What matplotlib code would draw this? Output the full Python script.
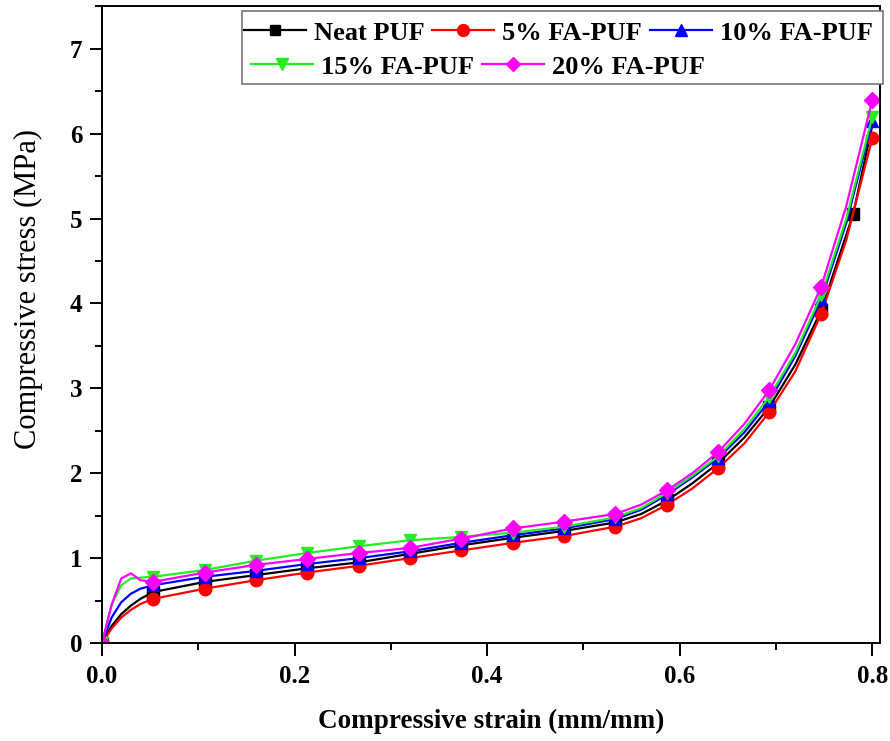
import matplotlib
matplotlib.use('Agg')
import matplotlib.pyplot as plt
from matplotlib.patches import Rectangle
from matplotlib.ticker import MultipleLocator

plt.rcParams['font.family'] = ['Liberation Serif', 'DejaVu Serif']
plt.rcParams['font.weight'] = 'bold'

# strain points
strain = [0, 0.01, 0.02, 0.03, 0.04, 0.053, 0.107, 0.16, 0.213, 0.267, 0.32,
          0.373, 0.427, 0.48, 0.533, 0.56, 0.587, 0.613, 0.64, 0.667, 0.693,
          0.72, 0.747, 0.773, 0.8]
strain_neat = [0, 0.01, 0.02, 0.03, 0.04, 0.053, 0.107, 0.16, 0.213, 0.267, 0.32,
               0.373, 0.427, 0.48, 0.533, 0.56, 0.587, 0.613, 0.64, 0.667, 0.693,
               0.72, 0.747, 0.78, 0.8]

neat = [0, 0.2, 0.34, 0.44, 0.52, 0.6, 0.72, 0.8, 0.88, 0.95, 1.05, 1.15, 1.24,
        1.32, 1.42, 1.52, 1.68, 1.88, 2.12, 2.42, 2.78, 3.28, 3.92, 5.05, 6.1]
fa5 = [0, 0.17, 0.3, 0.39, 0.46, 0.52, 0.64, 0.74, 0.83, 0.91, 1.0, 1.09, 1.18,
       1.26, 1.37, 1.47, 1.63, 1.82, 2.06, 2.35, 2.72, 3.2, 3.88, 4.75, 5.95]
fa10 = [0, 0.3, 0.48, 0.58, 0.64, 0.68, 0.78, 0.85, 0.93, 1.0, 1.08, 1.18, 1.27,
        1.35, 1.46, 1.57, 1.75, 1.95, 2.18, 2.48, 2.85, 3.38, 4.05, 4.95, 6.15]
fa15 = [0, 0.45, 0.68, 0.76, 0.77, 0.78, 0.86, 0.97, 1.06, 1.14, 1.21, 1.25, 1.3,
        1.37, 1.48, 1.59, 1.77, 1.97, 2.2, 2.52, 2.9, 3.42, 4.1, 5.0, 6.2]
fa20 = [0, 0.45, 0.76, 0.82, 0.74, 0.72, 0.83, 0.92, 0.99, 1.06, 1.12, 1.23, 1.35,
        1.43, 1.52, 1.63, 1.8, 2.0, 2.25, 2.58, 2.98, 3.52, 4.2, 5.15, 6.4]

labels = ['Neat PUF', '5% FA-PUF', '10% FA-PUF', '15% FA-PUF', '20% FA-PUF']

marks = [0, 5, 6, 7, 8, 9, 10, 11, 12, 13, 14, 16, 18, 20, 22, 24]
marks_neat = [0, 5, 6, 7, 8, 9, 10, 11, 12, 13, 14, 16, 18, 20, 22, 23]

fig = plt.figure(figsize=(8.9, 7.41), dpi=100)
ax = fig.add_axes([0.1146, 0.1323, 0.8742, 0.859])

h1, = ax.plot(strain_neat, neat, color='black', marker='s', ms=8, lw=1.6,
              markevery=marks_neat, label=labels[0])
h2, = ax.plot(strain, fa5, color='#ff0000', marker='o', ms=9, lw=1.6,
              markevery=marks, label=labels[1])
h3, = ax.plot(strain, fa10, color='#0000ff', marker='^', ms=9, lw=1.6,
              markevery=marks, label=labels[2])
h4, = ax.plot(strain, fa15, color='#22ee22', marker='v', ms=9, lw=1.6,
              markevery=marks, label=labels[3])
h5, = ax.plot(strain, fa20, color='#ff00ff', marker='D', ms=8, lw=1.6,
              markevery=marks, label=labels[4])

ax.set_xlim(0, 0.808)
ax.set_ylim(0, 7.5)
ax.xaxis.set_major_locator(MultipleLocator(0.2))
ax.xaxis.set_minor_locator(MultipleLocator(0.1))
ax.yaxis.set_major_locator(MultipleLocator(1))
ax.yaxis.set_minor_locator(MultipleLocator(0.5))
ax.tick_params(which='major', direction='out', length=9, width=1.4,
               labelsize=18, pad=5)
ax.tick_params(axis='x', which='major', pad=7)
ax.tick_params(which='minor', direction='out', length=5, width=1.4)
ax.xaxis.set_major_formatter(plt.FuncFormatter(lambda v, p: '%.1f' % v))
for s in ax.spines.values():
    s.set_linewidth(1.4)

ax.set_xlabel('Compressive strain (mm/mm)', fontsize=19.5, fontweight='bold', labelpad=15)
ax.set_ylabel('Compressive stress (MPa)', fontsize=22, fontweight='normal')
ax.yaxis.set_label_coords(-0.076, 0.556)

# legend flows row by row, framed by one box
frame = Rectangle((242 / 890, 1 - 84 / 741), 641 / 890, 73 / 741,
                  transform=fig.transFigure, facecolor='white',
                  edgecolor='#777777', lw=1.2, zorder=4.9, clip_on=False)
ax.add_patch(frame)

leg_kw = dict(loc='center left', bbox_transform=fig.transFigure, fontsize=19,
              frameon=False, borderpad=0, borderaxespad=0, handlelength=2.35,
              handletextpad=0.3, columnspacing=0.3, markerscale=0.95)
row1 = ax.legend([h1, h2, h3], labels[:3], ncol=3,
                 bbox_to_anchor=(244 / 890, 1 - 33 / 741), **leg_kw)
ax.add_artist(row1)
row2 = ax.legend([h4, h5], labels[3:], ncol=2,
                 bbox_to_anchor=(251 / 890, 1 - 67 / 741), **leg_kw)

fig.savefig('out.png', dpi=100)
